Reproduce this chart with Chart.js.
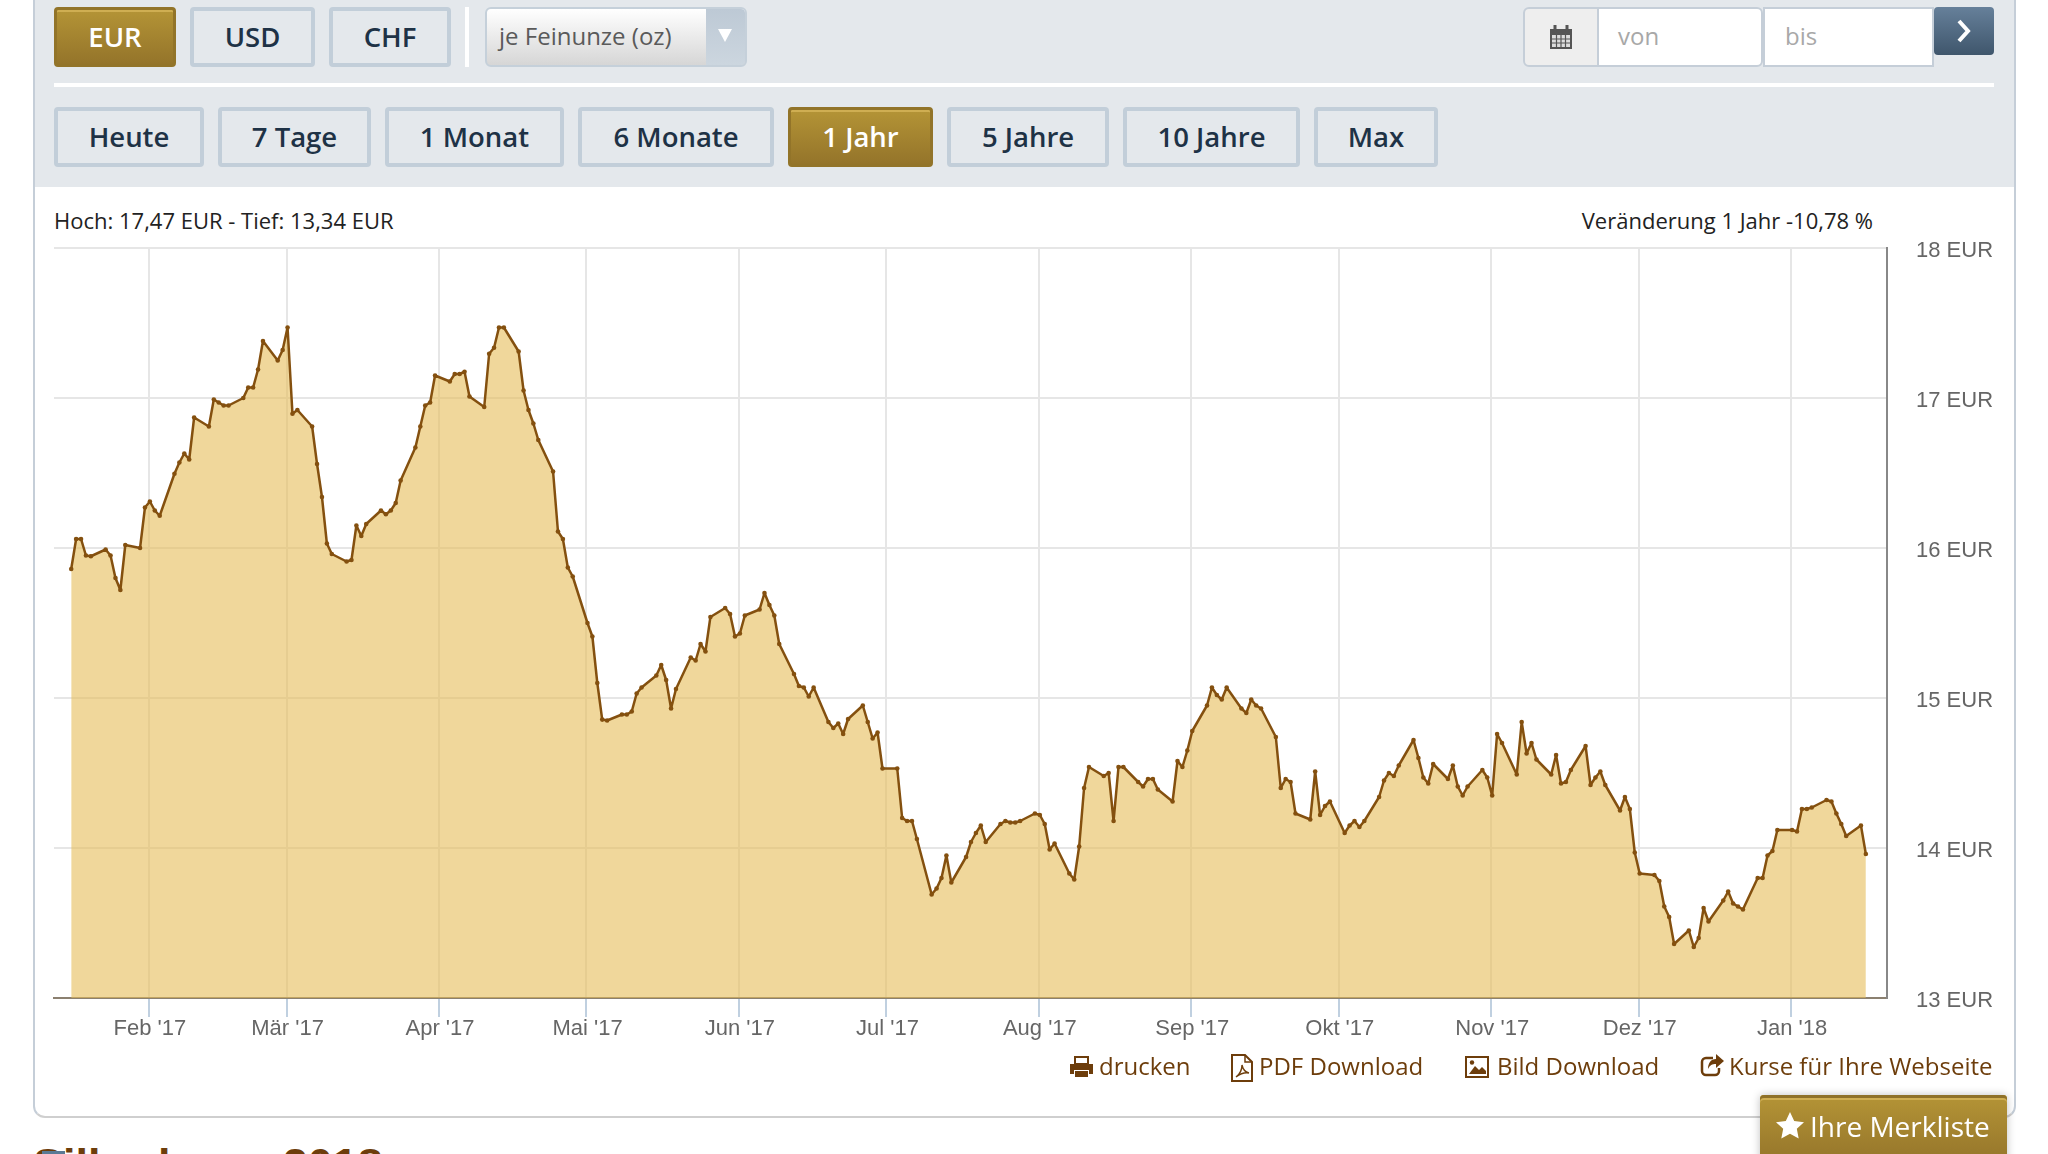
<!DOCTYPE html>
<html lang="de">
<head>
<meta charset="utf-8">
<title>Silberkurs</title>
<script src="https://cdn.jsdelivr.net/npm/chart.js@4"></script>
<style>
  html, body { margin: 0; padding: 0; width: 2048px; height: 1154px; overflow: hidden; background: #fff; font-family: "Open Sans", sans-serif; }
  .abs { position: absolute; box-sizing: border-box; }
  .card { left: 33px; top: -10px; width: 1983px; height: 1128px; border: 2px solid #c5ced8; border-top: 0; border-bottom-color: #cfcfcf; border-radius: 0 0 12px 12px; background: #fff; }
  .head { left: 35px; top: 0; width: 1979px; height: 187px; background: #e4e8ec; }
  .btn { display: flex; align-items: center; justify-content: center; height: 60px; padding-bottom: 1px; border: 4px solid #c2ced9; border-radius: 4px; color: #1e3246; font-size: 27.5px; font-weight: 600; }
  .btn.on { border: 3px solid #927429; background: linear-gradient(#b49436, #94742a); box-shadow: inset 0 2px 0 #cfae52; color: #fff; }
  .select { left: 485px; top: 7px; width: 262px; height: 60px; border: 2px solid #c5d0da; border-radius: 6px; background: linear-gradient(#fff, #d6d6d6); color: #5a5a5a; font-size: 24px; line-height: 54px; padding-left: 12px; overflow: hidden; }
  .select i { position: absolute; right: 0; top: 0; width: 39px; height: 56px; background: linear-gradient(#bdc9d5, #ccd6df); }
  .select i::after { content: ""; position: absolute; left: 12px; top: 20px; border-left: 7px solid transparent; border-right: 7px solid transparent; border-top: 13px solid #fff; }
  .field { top: 7px; height: 60px; background: #fff; border: 2px solid #c5ced8; color: #a8a8a8; font-size: 24px; line-height: 54px; }
  .stat { top: 204px; font-size: 22px; line-height: 32px; color: #222; white-space: nowrap; }
  .link { top: 1048px; font-size: 24px; line-height: 36px; color: #6d3d0b; white-space: nowrap; }
  .merk { left: 1760px; top: 1095px; width: 247px; height: 70px; border-radius: 4px 4px 0 0; background: linear-gradient(#b49436, #94742a); box-shadow: inset 0 3px 0 #8f7128, inset 0 5px 0 #cfae52, 0 0 8px rgba(0,0,0,.25); color: #fff; font-size: 28px; line-height: 63px; padding-left: 50px; white-space: nowrap; }
  h2 { position: absolute; margin: 0; left: 33px; top: 1140px; font: bold 45px/50px "Liberation Sans", sans-serif; word-spacing: -8px; color: #6d3d0b; white-space: nowrap; }
  canvas { position: absolute; left: 40px; top: 230px; }
  svg { position: absolute; }
</style>
</head>
<body>
<div class="abs card"></div>
<div class="abs head"></div>

<div class="abs btn on" style="left:54px;top:7px;width:122px">EUR</div>
<div class="abs btn" style="left:190px;top:7px;width:125px">USD</div>
<div class="abs btn" style="left:329px;top:7px;width:122px">CHF</div>
<div class="abs" style="left:465px;top:7px;width:4px;height:60px;background:#fff"></div>
<div class="abs select">je Feinunze (oz)<i></i></div>

<div class="abs" style="left:1523px;top:7px;width:76px;height:60px;background:#eee;border:2px solid #c5ced8;border-radius:6px 0 0 6px"></div>
<svg style="left:1549px;top:24px" width="24" height="26" viewBox="0 0 24 26"><path d="M1 5h22v20H1z" fill="#555"/><path d="M3 11h18v12H3z" fill="#ddd"/><path d="M3 15h18M3 19h18M7.5 11v12M12 11v12M16.5 11v12" stroke="#555" stroke-width="1.2"/><path d="M6 1v7M18 1v7" stroke="#555" stroke-width="3"/></svg>
<div class="abs field" style="left:1597px;width:166px;padding-left:19px;border-radius:0 6px 6px 0">von</div>
<div class="abs field" style="left:1763px;width:171px;padding-left:20px">bis</div>
<div class="abs" style="left:1934px;top:7px;width:60px;height:48px;border-radius:4px;background:linear-gradient(#66809a,#3f566c)"></div>
<svg style="left:1955px;top:18px" width="18" height="26" viewBox="0 0 18 26"><path d="M4 3l9 10-9 10" fill="none" stroke="#fff" stroke-width="4"/></svg>

<div class="abs" style="left:54px;top:83px;width:1940px;height:4px;background:#fff"></div>

<div class="abs btn" style="left:54px;top:107px;width:150px">Heute</div>
<div class="abs btn" style="left:218px;top:107px;width:153px">7 Tage</div>
<div class="abs btn" style="left:385px;top:107px;width:179px">1 Monat</div>
<div class="abs btn" style="left:578px;top:107px;width:196px">6 Monate</div>
<div class="abs btn on" style="left:788px;top:107px;width:145px">1 Jahr</div>
<div class="abs btn" style="left:947px;top:107px;width:162px">5 Jahre</div>
<div class="abs btn" style="left:1123px;top:107px;width:177px">10 Jahre</div>
<div class="abs btn" style="left:1314px;top:107px;width:124px">Max</div>

<div class="abs stat" style="left:54px">Hoch: 17,47 EUR - Tief: 13,34 EUR</div>
<div class="abs stat" style="right:175px">Veränderung 1 Jahr -10,78 %</div>

<canvas id="priceChart" width="1980" height="830"></canvas>

<svg style="left:1070px;top:1056px" width="23" height="22" viewBox="0 0 23 22"><path d="M5 1h13v7H5z" fill="none" stroke="#6d3d0b" stroke-width="2"/><path d="M0 8h23v10h-4v-4H4v4H0z" fill="#6d3d0b"/><path d="M5 15h13v6H5z" fill="#6d3d0b"/></svg>
<div class="abs link" style="left:1099px">drucken</div>
<svg style="left:1231px;top:1054px" width="22" height="28" viewBox="0 0 22 28"><path d="M1 1h13l7 7v19H1z" fill="none" stroke="#6d3d0b" stroke-width="2"/><path d="M14 1v7h7" fill="none" stroke="#6d3d0b" stroke-width="1.5"/><path d="M5 23c4-3 6-8 6-12 1 5 3 7 7 8-5-1-9 1-13 4z" fill="none" stroke="#6d3d0b" stroke-width="1.4"/></svg>
<div class="abs link" style="left:1259px">PDF Download</div>
<svg style="left:1465px;top:1056px" width="24" height="22" viewBox="0 0 24 22"><path d="M0 0h24v22H0z" fill="#6d3d0b"/><path d="M2 2h20v18H2z" fill="#fff"/><path d="M4 18l6-8 4 4 3-3 4 4v3z" fill="#6d3d0b"/><circle cx="7" cy="6.5" r="2.2" fill="#6d3d0b"/></svg>
<div class="abs link" style="left:1497px">Bild Download</div>
<svg style="left:1700px;top:1053px" width="25" height="24" viewBox="0 0 25 24"><path d="M13 5H6a4 4 0 0 0-4 4v9a4 4 0 0 0 4 4h9a4 4 0 0 0 4-4v-3" fill="none" stroke="#6d3d0b" stroke-width="2.5"/><path d="M16 1l8 7-8 7v-4c-4 0-6 1-8 5 0-6 3-10 8-10z" fill="#6d3d0b"/></svg>
<div class="abs link" style="left:1729px">Kurse für Ihre Webseite</div>

<div class="abs merk">Ihre Merkliste</div>
<svg style="left:1776px;top:1112px" width="28" height="27" viewBox="0 0 28 27"><path d="M14 0l4.2 9 9.8 1.2-7.2 6.6 1.9 9.7L14 21.7l-8.7 4.8 1.9-9.7L0 10.2 9.8 9z" fill="#fff"/></svg>

<h2>Silberkurse 2018</h2>
<div class="abs" style="left:42px;top:1151px;width:23px;height:3px;background:#5a7a95"></div>

<script>
// days counted from 1 Jan 2017, weekdays only
const days = [
  15, 16, 17, 18, 19, 22, 23, 24, 25, 26, 29, 30, 31, 32, 33, 36, 37, 38, 39, 40,
  43, 44, 45, 46, 47, 50, 51, 52, 53, 54, 57, 58, 59, 60, 61, 64, 65, 66, 67, 68,
  71, 72, 73, 74, 75, 78, 79, 80, 81, 82, 85, 86, 87, 88, 89, 92, 93, 94, 95, 96,
  99, 100, 101, 102, 103, 106, 107, 108, 109, 110, 113, 114, 115, 116, 117, 120, 121, 122, 123, 124,
  127, 128, 129, 130, 131, 134, 135, 136, 137, 138, 141, 142, 143, 144, 145, 148, 149, 150, 151, 152,
  155, 156, 157, 158, 159, 162, 163, 164, 165, 166, 169, 170, 171, 172, 173, 176, 177, 178, 179, 180,
  183, 184, 185, 186, 187, 190, 191, 192, 193, 194, 197, 198, 199, 200, 201, 204, 205, 206, 207, 208,
  211, 212, 213, 214, 215, 218, 219, 220, 221, 222, 225, 226, 227, 228, 229, 232, 233, 234, 235, 236,
  239, 240, 241, 242, 243, 246, 247, 248, 249, 250, 253, 254, 255, 256, 257, 260, 261, 262, 263, 264,
  267, 268, 269, 270, 271, 274, 275, 276, 277, 278, 281, 282, 283, 284, 285, 288, 289, 290, 291, 292,
  295, 296, 297, 298, 299, 302, 303, 304, 305, 306, 309, 310, 311, 312, 313, 316, 317, 318, 319, 320,
  323, 324, 325, 326, 327, 330, 331, 332, 333, 334, 337, 338, 339, 340, 341, 344, 345, 346, 347, 348,
  351, 352, 353, 354, 355, 358, 359, 360, 361, 362, 365, 366, 367, 368, 369, 372, 373, 374, 375, 376,
  379, 380
];
const prices = [
  15.86, 16.06, 16.06, 15.95, 15.945, 15.99, 15.95, 15.80, 15.72, 16.02, 16.00, 16.27, 16.31, 16.25, 16.215, 16.495, 16.57, 16.63, 16.59, 16.87,
  16.81, 16.99, 16.97, 16.95, 16.95, 17.00, 17.07, 17.07, 17.19, 17.38, 17.25, 17.32, 17.47, 16.895, 16.92, 16.81, 16.56, 16.34, 16.03, 15.96,
  15.91, 15.92, 16.15, 16.08, 16.16, 16.25, 16.225, 16.25, 16.30, 16.45, 16.67, 16.81, 16.95, 16.97, 17.15, 17.11, 17.16, 17.16, 17.175, 17.01,
  16.94, 17.295, 17.335, 17.47, 17.47, 17.31, 17.05, 16.92, 16.83, 16.72, 16.51, 16.11, 16.06, 15.87, 15.81, 15.50, 15.41, 15.10, 14.856, 14.85,
  14.89, 14.89, 14.91, 15.03, 15.07, 15.15, 15.22, 15.12, 14.93, 15.06, 15.27, 15.25, 15.36, 15.31, 15.54, 15.60, 15.56, 15.41, 15.43, 15.55,
  15.59, 15.70, 15.62, 15.55, 15.36, 15.16, 15.08, 15.07, 15.01, 15.07, 14.84, 14.80, 14.83, 14.76, 14.86, 14.95, 14.84, 14.73, 14.77, 14.53,
  14.53, 14.20, 14.18, 14.18, 14.06, 13.69, 13.73, 13.80, 13.95, 13.77, 13.94, 14.04, 14.10, 14.15, 14.04, 14.16, 14.18, 14.17, 14.17, 14.18,
  14.23, 14.22, 14.16, 13.99, 14.03, 13.83, 13.79, 14.01, 14.40, 14.54, 14.48, 14.50, 14.18, 14.54, 14.54, 14.44, 14.41, 14.46, 14.46, 14.39,
  14.31, 14.58, 14.54, 14.65, 14.78, 14.95, 15.07, 15.02, 14.99, 15.07, 14.93, 14.90, 14.99, 14.95, 14.93, 14.74, 14.40, 14.46, 14.44, 14.23,
  14.19, 14.51, 14.22, 14.28, 14.31, 14.10, 14.15, 14.18, 14.14, 14.18, 14.34, 14.45, 14.50, 14.48, 14.55, 14.72, 14.60, 14.47, 14.43, 14.56,
  14.46, 14.55, 14.41, 14.35, 14.41, 14.52, 14.47, 14.35, 14.76, 14.70, 14.49, 14.84, 14.63, 14.70, 14.59, 14.49, 14.62, 14.43, 14.44, 14.52,
  14.68, 14.42, 14.47, 14.51, 14.42, 14.25, 14.34, 14.26, 13.97, 13.83, 13.82, 13.78, 13.61, 13.54, 13.36, 13.45, 13.34, 13.40, 13.60, 13.51,
  13.65, 13.71, 13.63, 13.61, 13.59, 13.80, 13.80, 13.95, 13.98, 14.12, 14.12, 14.11, 14.26, 14.26, 14.27, 14.32, 14.31, 14.23, 14.16, 14.08,
  14.15, 13.96
];
const monthDays = [31, 59, 90, 120, 151, 181, 212, 243, 273, 304, 334, 365];
const monthLabels = ["Feb '17", "Mär '17", "Apr '17", "Mai '17", "Jun '17", "Jul '17", "Aug '17", "Sep '17", "Okt '17", "Nov '17", "Dez '17", "Jan '18"];
const priceTicks = [13, 14, 15, 16, 17, 18];
// quotes sit a little after the midnight month ticks
const quoteTime = 0.2;

const axisFont = { family: '"Liberation Sans", sans-serif', size: 22 };

new Chart(document.getElementById("priceChart"), {
  type: "line",
  data: {
    datasets: [{
      data: days.map((d, i) => ({ x: d + quoteTime, y: prices[i] })),
      borderColor: "#84500f",
      borderWidth: 2.5,
      borderJoinStyle: "round",
      backgroundColor: "rgba(230, 188, 88, 0.6)",
      pointBackgroundColor: "#84500f",
      pointBorderColor: "#84500f",
      pointBorderWidth: 0,
      pointRadius: 2.3,
      tension: 0,
      fill: "start"
    }]
  },
  options: {
    responsive: false,
    animation: false,
    devicePixelRatio: 1,
    layout: { padding: { left: 14, top: 18, right: 0, bottom: 0 } },
    plugins: { legend: { display: false }, tooltip: { enabled: false } },
    scales: {
      x: {
        type: "linear",
        min: 11.7,
        max: 384.5,
        afterBuildTicks: axis => { axis.ticks = monthDays.map(v => ({ value: v })); },
        afterFit: axis => { axis.height = 62; axis.paddingLeft = 0; axis.paddingRight = 0; },
        border: { color: "#8b8070", width: 2 },
        grid: { color: "#e6e6e6", lineWidth: 2, tickColor: "#c0d0e0", tickWidth: 2, tickLength: 19 },
        ticks: {
          autoSkip: false,
          maxRotation: 0,
          padding: -1,
          labelOffset: 1,
          color: "#666",
          font: axisFont,
          callback: (value, index) => monthLabels[index]
        }
      },
      y: {
        position: "right",
        min: 13,
        max: 18,
        afterBuildTicks: axis => { axis.ticks = priceTicks.map(v => ({ value: v })); },
        afterFit: axis => { axis.width = 133; axis.paddingTop = 0; axis.paddingBottom = 0; },
        border: { color: "#888", width: 2 },
        grid: { color: "#e6e6e6", lineWidth: 2, drawTicks: false },
        ticks: {
          padding: 29,
          labelOffset: 3,
          color: "#666",
          font: axisFont,
          callback: value => value + " EUR"
        }
      }
    }
  }
});
</script>
</body>
</html>
